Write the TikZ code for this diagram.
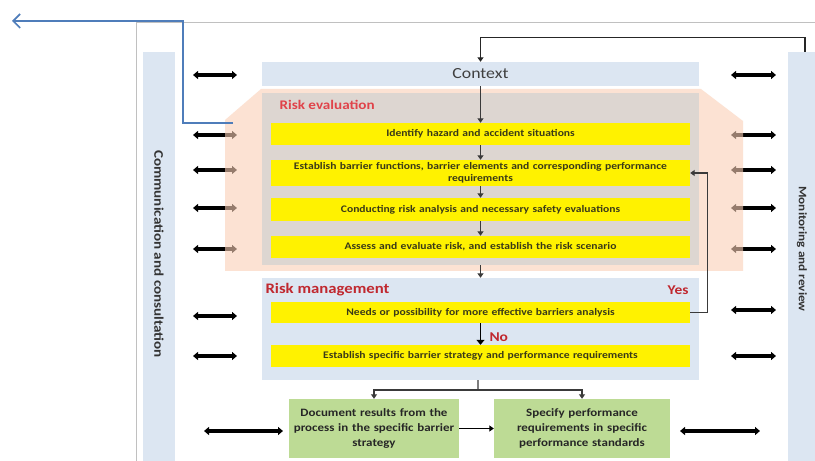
\documentclass[tikz,border=0pt]{standalone}
\usepackage{fontspec}
\setmainfont{Carlito}[FakeStretch=1.15]
\usetikzlibrary{arrows.meta,calc}

\definecolor{paleblue}{HTML}{DCE6F2}
\definecolor{peach}{HTML}{FAD0B7}
\definecolor{taupe}{HTML}{DDD6D1}
\definecolor{hiyellow}{HTML}{FFF200}
\definecolor{leaf}{HTML}{BDDB95}
\definecolor{redlabel}{HTML}{E0434A}
\definecolor{darkred}{HTML}{C0282F}
\definecolor{framegray}{HTML}{C0C0C0}
\definecolor{linkblue}{HTML}{4F7DBA}
\definecolor{flowgray}{HTML}{3A3A3A}
\definecolor{olivetext}{HTML}{3A3A18}

\tikzset{
  panel/.style={fill=paleblue, draw=none, inner sep=0pt},
  stepbox/.style={fill=hiyellow, draw=none, inner sep=1pt, minimum width=419bp,
    text width=415bp, align=center, text=olivetext,
    font=\fontsize{10.1}{12.5}\selectfont\bfseries},
  leafbox/.style={fill=leaf, draw=none, inner sep=1pt, minimum width=170bp,
    minimum height=59bp, text width=168bp, align=center, text=black!85,
    font=\fontsize{11.3}{15}\selectfont\bfseries},
  flow/.style={draw=flowgray, line width=1.3bp, -{Triangle[length=4.5bp,width=6bp]}},
  twoway/.style={draw=black, line width=3.4bp,
    {Triangle[length=5bp,width=8bp]}-{Triangle[length=5bp,width=8bp]}},
  sidelabel/.style={text=black!80, rotate=-90},
}

\begin{document}
\begin{tikzpicture}[x=1bp,y=-1bp]
\useasboundingbox (0,0) rectangle (815,461);
\fill[white] (0,0) rectangle (815,461);

% outer frame
\draw[framegray, line width=0.8bp] (136,461) -- (136,22) -- (815,22);

% side columns
\node[panel, minimum width=32bp, minimum height=409bp] (comm) at (159,256.5) {};
\node[sidelabel, font=\fontsize{13.2}{15}\selectfont\bfseries] at (159,254) {Communication and consultation};
\node[panel, minimum width=27bp, minimum height=409bp] (mon) at (801.5,256.5) {};
\node[sidelabel, font=\fontsize{11.5}{13}\selectfont\bfseries] at (802,249) {Monitoring and review};

% two-way links between the columns and the process
\foreach \y [count=\i] in {75,135,170,208,249,316,356} {
  \coordinate (la\i) at (193,\y);
  \coordinate (lb\i) at (237,\y);
  \draw[twoway] (la\i) -- (lb\i);
}
\foreach \y [count=\i] in {75,135,170,208,249,310,356} {
  \coordinate (ra\i) at (731,\y);
  \coordinate (rb\i) at (776,\y);
  \draw[twoway] (ra\i) -- (rb\i);
}
\coordinate (la8) at (204,431); \coordinate (lb8) at (283,431);
\coordinate (ra8) at (680,431); \coordinate (rb8) at (760,431);
\draw[twoway] (la8) -- (lb8);
\draw[twoway] (ra8) -- (rb8);

% risk evaluation area
\fill[peach, fill opacity=0.6] (225,120) -- (261,89) -- (701,89) -- (743,121)
  -- (743,271) -- (225,271) -- cycle;
\node[fill=taupe, inner sep=0pt, minimum width=437bp, minimum height=172bp] (evalarea) at (480.5,179) {};
\node[anchor=west, text=redlabel, font=\fontsize{13.2}{15}\selectfont\bfseries] at (276,105) {Risk evaluation};

% context
\node[panel, minimum width=437bp, minimum height=24bp,
  font=\fontsize{15.5}{17}\selectfont, text=black!75] (context) at (480.5,74) {Context};

\node[stepbox, minimum height=22bp] (s1) at (480.5,134) {Identify hazard and accident situations};
\node[stepbox, minimum height=26bp] (s2) at (480.5,173) {Establish barrier functions, barrier elements and corresponding performance\\requirements};
\node[stepbox, minimum height=23bp] (s3) at (480.5,209.5) {Conducting risk analysis and necessary safety evaluations};
\node[stepbox, minimum height=22bp] (s4) at (480.5,247) {Assess and evaluate risk, and establish the risk scenario};

% risk management area
\node[panel, minimum width=437bp, minimum height=102bp] (mgmt) at (480.5,329) {};
\node[anchor=west, text=darkred, font=\fontsize{14.6}{16}\selectfont\bfseries] at (262,290) {Risk management};
\node[anchor=east, text=darkred, font=\fontsize{13.5}{15}\selectfont\bfseries] (yes) at (692,290) {Yes};
\node[stepbox, minimum height=21bp] (n1) at (480.5,312.5) {Needs or possibility for more effective barriers analysis};
\node[stepbox, minimum height=22bp] (n2) at (480.5,356) {Establish specific barrier strategy and performance requirements};
\node[anchor=west, text=darkred, font=\fontsize{13.5}{15}\selectfont\bfseries] (no) at (486,337) {No};

% outputs
\node[leafbox] (g1) at (374,428.5) {Document results from the\\process in the specific barrier\\strategy};
\node[leafbox, minimum width=176bp] (g2) at (582,428.5) {Specify performance\\requirements in specific\\performance standards};

% process flow
\draw[flow] (context.south) -- (s1.north);
\draw[flow] (s1.south) -- (s2.north);
\draw[flow] (s2.south) -- (s3.north);
\draw[flow] (s3.south) -- (s4.north);
\draw[flow] (evalarea.south) -- (mgmt.north);
\draw[draw=black, line width=1.8bp, -{Triangle[length=5bp,width=8bp]}] (n1.south) -- (n2.north);
\draw[flow] (n1.east) -- ++(17,0) |- (s2.east);
\draw[flow, draw=black!85] ([xshift=3.5bp]mon.north) -- ++(0,-14) -| (context.north);

% split towards the outputs
\coordinate (split) at (478,390);
\draw[draw=flowgray, line width=1.3bp] ([xshift=-2.5bp]mgmt.south) -- (split);
\draw[flow] (split) -| (g1.north);
\draw[flow] (split) -| (g2.north);
\draw[draw=black, line width=1.4bp, -{Triangle[length=4.5bp,width=6bp]}] (g1.east) -- (g2.west);

% feedback to the top-left
\coordinate (exit) at (12,21);
\draw[linkblue, line width=1.6bp, -{Straight Barb[length=7bp,width=14bp]}] (233,123) -- (183,123) -- (183,21) -- (exit);
\end{tikzpicture}
\end{document}
